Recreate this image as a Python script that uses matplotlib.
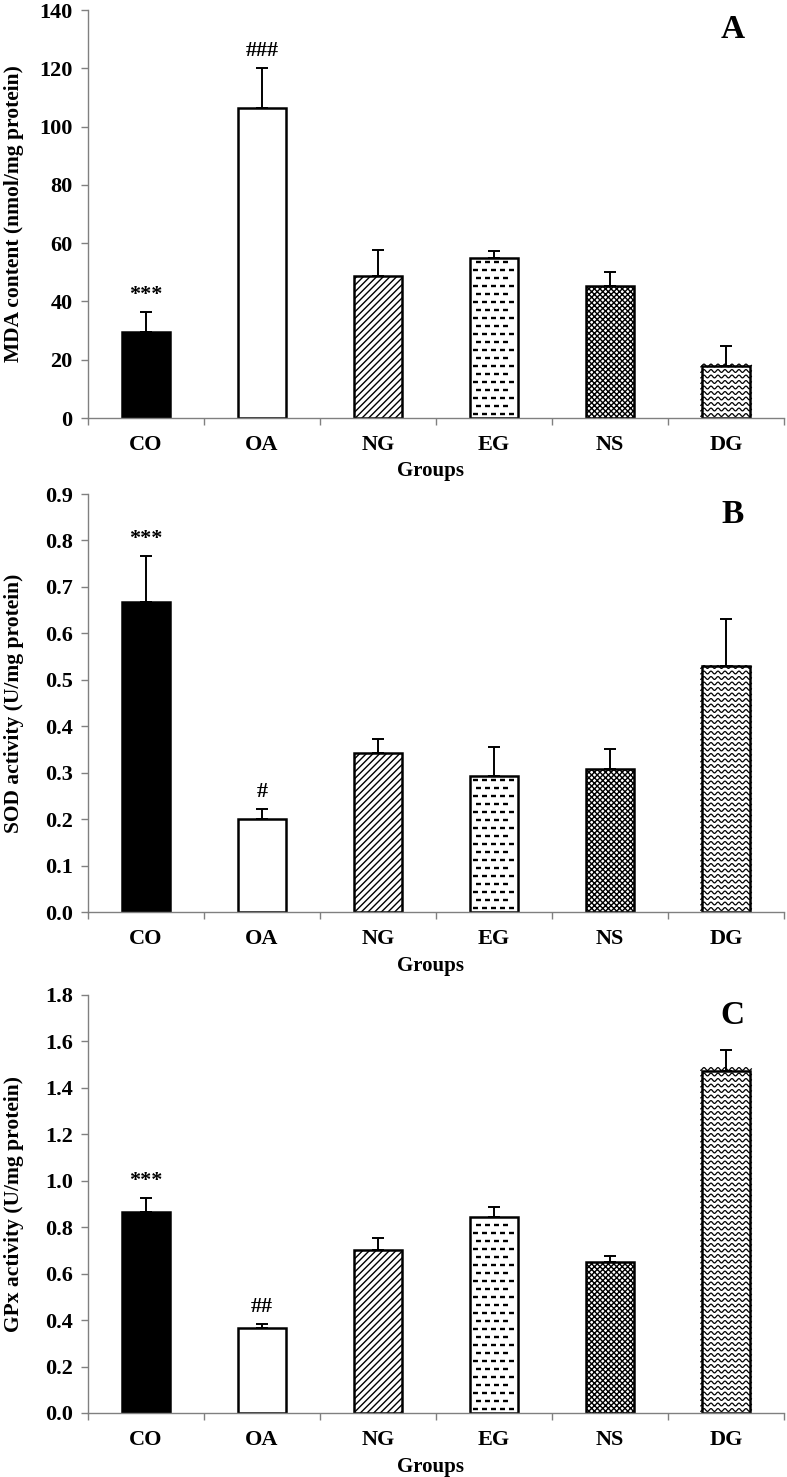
import numpy as np
import matplotlib
matplotlib.use('Agg')
import matplotlib.pyplot as plt
from matplotlib.collections import LineCollection
from matplotlib.transforms import IdentityTransform

plt.rcParams['font.family'] = ['Liberation Serif', 'DejaVu Serif']
plt.rcParams['font.weight'] = 'bold'
plt.rcParams['hatch.linewidth'] = 1.0

# Data
groups = ['CO', 'OA', 'NG', 'EG', 'NS', 'DG']

mda = [29.5, 106.3, 48.7, 54.8, 45.2, 17.8]
mda_err = [7.0, 13.8, 9.0, 2.6, 4.8, 6.9]
mda_marks = ['***', '###', '', '', '', '']

sod = [0.667, 0.201, 0.343, 0.293, 0.308, 0.530]
sod_err = [0.100, 0.021, 0.030, 0.062, 0.042, 0.100]
sod_marks = ['***', '#', '', '', '', '']

gpx = [0.867, 0.365, 0.702, 0.845, 0.652, 1.474]
gpx_err = [0.060, 0.018, 0.053, 0.040, 0.025, 0.089]
gpx_marks = ['***', '##', '', '', '', '']

W, H = 787, 1477
fig = plt.figure(figsize=(W / 100, H / 100), dpi=100)

GRAY = '#808080'


def axes_px(top, bottom, left=88, right=784):
    return fig.add_axes([left / W, 1 - bottom / H, (right - left) / W, (bottom - top) / H])


def texture(ax, bar, kind):
    # draw a pixel-sized fill texture clipped to the bar
    (x0, y0), (x1, y1) = ax.transData.transform([(bar.get_x(), 0),
                                                 (bar.get_x() + bar.get_width(), bar.get_height())])
    segs = []
    if kind == 'dash':
        row = 0
        y = y0 + 4
        while y < y1 - 2:
            off = 0 if row % 2 == 0 else 3
            x = x0 + 3 + off
            while x + 4 < x1 - 2:
                segs.append([(x, y), (x + 5, y)])
                x += 9
            y += 8
            row += 1
        lw = 1.7
    else:
        xs = np.arange(x0 - 2, x1 + 2, 0.5)
        y = y0 + 3
        while y < y1 + 3:
            ys = y + 1.4 * np.sin(2 * np.pi * (xs - x0) / 7.0)
            segs.append(np.column_stack([xs, ys]))
            y += 5.5
        lw = 0.9
    lc = LineCollection(segs, colors='black', linewidths=lw, transform=IdentityTransform())
    lc.set_clip_path(bar)
    ax.add_artist(lc)


def panel(ax, vals, errs, marks, ymax, ystep, fmt, ylabel, letter):
    x = np.arange(len(groups))
    ax.set_xlim(-0.5, len(groups) - 0.5)
    ax.set_ylim(0, ymax)
    fills = ['black', 'white', 'white', 'white', 'white', 'white']
    hatches = [None, None, '/////', None, 'xxxxxx', None]
    bars = ax.bar(x, vals, width=0.41, color=fills, edgecolor='black', linewidth=1.8, zorder=2)
    for b, h in zip(bars, hatches):
        if h:
            b.set_hatch(h)
    ax.errorbar(x, vals, yerr=[np.zeros(len(vals)), errs], fmt='none', ecolor='black',
                elinewidth=1.4, capsize=4.5, capthick=1.4, zorder=3)
    texture(ax, bars[3], 'dash')
    texture(ax, bars[5], 'wave')
    for xi, v, e, m in zip(x, vals, errs, marks):
        if m:
            ax.annotate(m, (xi, v + e), xytext=(0, 5), textcoords='offset points',
                        ha='center', va='bottom', fontsize=16, fontweight='bold')

    for s in ['top', 'right']:
        ax.spines[s].set_visible(False)
    for s in ['left', 'bottom']:
        ax.spines[s].set_color(GRAY)
        ax.spines[s].set_linewidth(1.0)
    ticks = np.arange(0, ymax + ystep / 2, ystep)
    ax.set_yticks(ticks)
    ax.set_yticklabels([fmt.format(v) for v in ticks])
    ax.set_xticks(np.arange(-0.5, len(groups)), labels=[''] * (len(groups) + 1))
    ax.set_xticks(x, labels=groups, minor=True)
    ax.tick_params(axis='both', which='major', color=GRAY, length=5, width=1.0, labelsize=16)
    ax.tick_params(axis='y', pad=6)
    ax.tick_params(axis='x', which='minor', length=0, labelsize=16, pad=12)
    for lab in ax.get_yticklabels() + ax.get_xticklabels(minor=True):
        lab.set_fontweight('bold')
    ax.set_xlabel('Groups', fontsize=15, fontweight='bold')
    ax.set_ylabel(ylabel, fontsize=15.5, fontweight='bold')
    ax.text(0.926, 0.952, letter, transform=ax.transAxes, ha='center', va='center',
            fontsize=24, fontweight='bold')
    ax.yaxis.label.set_va('center')
    ax.xaxis.label.set_va('center')
    ax.yaxis.set_label_coords(-0.107, 0.5)
    ax.xaxis.set_label_coords(0.492, -0.13)


axA = axes_px(10, 418)
axB = axes_px(494, 912)
axC = axes_px(995, 1413)

panel(axA, mda, mda_err, mda_marks, 140, 20, '{:.0f}', 'MDA content (nmol/mg protein)', 'A')
panel(axB, sod, sod_err, sod_marks, 0.9, 0.1, '{:.1f}', 'SOD activity (U/mg protein)', 'B')
panel(axC, gpx, gpx_err, gpx_marks, 1.8, 0.2, '{:.1f}', 'GPx activity (U/mg protein)', 'C')

fig.savefig('out.png', dpi=100)
